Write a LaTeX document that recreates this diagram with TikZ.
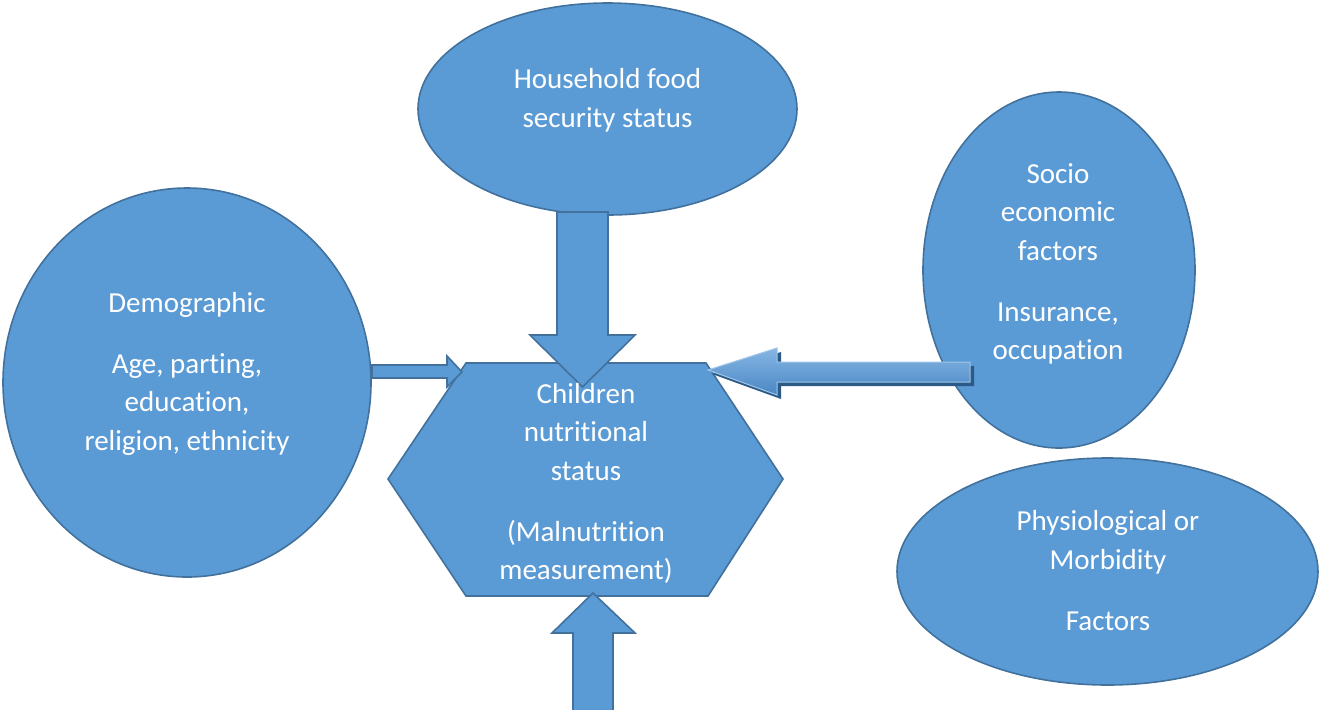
\documentclass[tikz,border=0pt]{standalone}
\usepackage{fontspec}
\setmainfont{Carlito}[Ligatures=NoCommon]
\usetikzlibrary{shapes.geometric}
\definecolor{bfill}{HTML}{5B9BD5}
\definecolor{bline}{HTML}{41719C}
\definecolor{bshadow}{HTML}{2C5A86}
\definecolor{btop}{HTML}{86B6E4}
\definecolor{bbot}{HTML}{4A87C4}
\begin{document}
\begin{tikzpicture}[x=0.5pt,y=-0.5pt,
  shapebox/.style={fill=bfill,draw=bline,line width=0.8pt},
  oval/.style={shapebox,ellipse,inner sep=0pt},
  lbl/.style={text=white,align=center,inner sep=0pt,font=\fontsize{14.5pt}{19.25pt}\selectfont},
  blockarrow/.style={shapebox,line join=miter}]
\useasboundingbox (0,0) rectangle (1319,709);

% shapes
\node[oval,minimum width=189.5pt,minimum height=106pt] (food) at (607.5,109) {};
\node[oval,minimum width=136pt,minimum height=178pt] (socio) at (1059,270) {};
\node[oval,minimum width=184pt,minimum height=194.5pt] (demo) at (187,382.5) {};
\node[oval,minimum width=210.5pt,minimum height=113.5pt] (phys) at (1107.5,571.5) {};
\draw[shapebox,line join=miter] (466,363) -- (706,363) -- (783,479) -- (708,596) -- (466,596) -- (388,479) -- cycle;
\coordinate (hex) at (586,479);

% block arrows
\draw[blockarrow] (372,365) -- (447,365) -- (447,356) -- (462,372) -- (447,387) -- (447,378) -- (372,378) -- cycle;
\draw[blockarrow] (557,212) -- (608,212) -- (608,335) -- (635,335) -- (582.5,387) -- (530,335) -- (557,335) -- cycle;
\draw[blockarrow] (573,712) -- (613,712) -- (613,633) -- (635,633) -- (593,593) -- (552,633) -- (573,633) -- cycle;

% shaded arrow from socio
\fill[bshadow] (974,366) -- (781,366) -- (781,352) -- (712,374) -- (781,399) -- (781,386) -- (974,386) -- cycle;
\draw[top color=btop,bottom color=bbot,draw=btop!80!white,line width=0.5pt] (970,362) -- (777,362) -- (777,348) -- (708,370) -- (777,395) -- (777,382) -- (970,382) -- cycle;

% labels
\node[lbl] (tfood) at (607.5,100.5) {Household food\\security status};
\node[lbl] (tsocio) at (1058,264) {Socio\\economic\\factors\\[11.25pt]Insurance,\\occupation};
\node[lbl] (tdemo) at (187,373.5) {Demographic\\[11.25pt]Age, parting,\\education,\\religion, ethnicity};
\node[lbl] (thex) at (586,483.5) {Children\\nutritional\\status\\[11.25pt](Malnutrition\\measurement)};
\node[lbl] (tphys) at (1108,570.5) {Physiological or\\Morbidity\\[11.25pt]Factors};
\end{tikzpicture}
\end{document}
